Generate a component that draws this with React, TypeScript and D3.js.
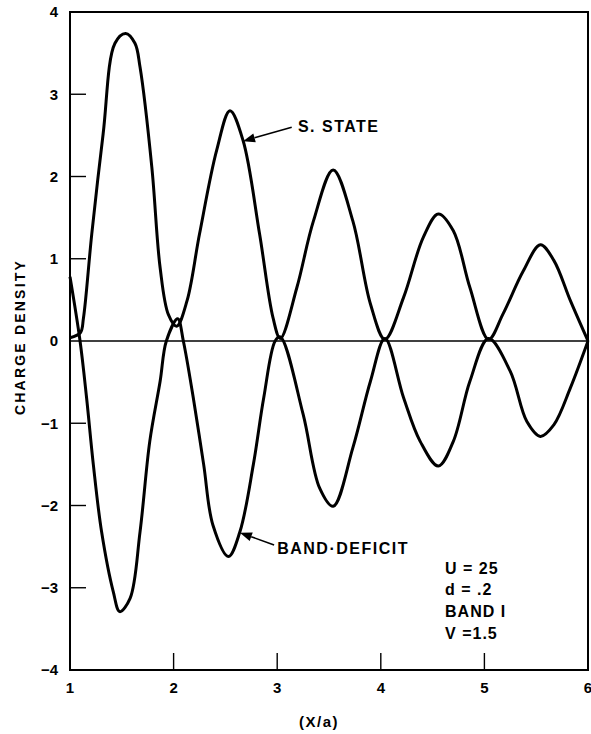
import React from "react";
import * as d3 from "d3";

// S. STATE curve
const sStateX = [1.0, 1.1, 1.13, 1.21, 1.32, 1.434, 1.537, 1.627, 1.676, 1.79, 1.87, 1.95, 2.03, 2.13, 2.25, 2.416, 2.544, 2.67, 2.83, 2.96, 3.03, 3.19, 3.35, 3.54, 3.73, 3.9, 4.04, 4.22, 4.41, 4.555, 4.7, 4.86, 5.04, 5.18, 5.375, 5.54, 5.67, 5.83, 6.0];
const sStateY = [0.04, 0.1, 0.28, 1.3, 2.52, 3.62, 3.74, 3.62, 3.33, 2.11, 0.89, 0.32, 0.18, 0.49, 1.3, 2.32, 2.8, 2.44, 1.3, 0.28, 0.03, 0.65, 1.46, 2.08, 1.46, 0.45, 0.02, 0.53, 1.26, 1.545, 1.34, 0.65, 0.02, 0.33, 0.85, 1.17, 0.98, 0.49, 0.0];

// BAND DEFICIT curve
const bandX = [1.0, 1.097, 1.16, 1.225, 1.305, 1.418, 1.48, 1.58, 1.676, 1.77, 1.87, 1.93, 2.04, 2.094, 2.19, 2.29, 2.38, 2.53, 2.64, 2.77, 2.87, 2.98, 3.03, 3.25, 3.41, 3.54, 3.73, 3.9, 4.04, 4.22, 4.38, 4.555, 4.7, 4.86, 5.04, 5.25, 5.41, 5.54, 5.67, 5.83, 6.0];
const bandY = [0.78, 0.0, -0.69, -1.5, -2.32, -3.05, -3.29, -3.13, -2.32, -1.22, -0.49, 0.0, 0.27, 0.0, -0.69, -1.5, -2.24, -2.62, -2.32, -1.5, -0.69, 0.0, 0.05, -0.89, -1.79, -2.01, -1.3, -0.49, 0.03, -0.69, -1.22, -1.52, -1.22, -0.49, 0.03, -0.37, -0.98, -1.16, -1.02, -0.57, 0.0];

const xTicks = [1, 2, 3, 4, 5, 6];
const yTicks = [4, 3, 2, 1, 0, -1, -2, -3, -4];
const paramLines = ["U = 25", "d =  .2", "BAND I", "V =1.5"];

const FONT = "'Liberation Sans', Arial, sans-serif";

export default function App() {
  const left = 70, right = 588, top = 12, bottom = 670;
  const x = d3.scaleLinear().domain([1, 6]).range([left, right]);
  const y = d3.scaleLinear().domain([-4, 4]).range([bottom, top]);

  const line = d3.line<[number, number]>()
    .x(d => x(d[0]))
    .y(d => y(d[1]))
    .curve(d3.curveCatmullRom.alpha(0.5));

  const sData = sStateX.map((v, i) => [v, sStateY[i]] as [number, number]);
  const bData = bandX.map((v, i) => [v, bandY[i]] as [number, number]);

  // arrow: from tail (data) to tip (data)
  const arrow = (tx: number, ty: number, hx: number, hy: number) => {
    const x1 = x(tx), y1 = y(ty), x2 = x(hx), y2 = y(hy);
    const ang = Math.atan2(y2 - y1, x2 - x1);
    const len = 12, wid = 4.5;
    const bx = x2 - len * Math.cos(ang), by = y2 - len * Math.sin(ang);
    const px = -Math.sin(ang) * wid, py = Math.cos(ang) * wid;
    return (
      <g>
        <line x1={x1} y1={y1} x2={bx} y2={by} stroke="#000" strokeWidth={1.6} />
        <path d={`M${x2},${y2}L${bx + px},${by + py}L${bx - px},${by - py}Z`} fill="#000" />
      </g>
    );
  };

  const textStyle = { fontFamily: FONT, fontWeight: 700 as const };

  return (
    <svg width={591} height={734} style={{ position: "absolute", left: 0, top: 0, background: "#fff" }}>
      {/* frame */}
      <rect x={left} y={top} width={right - left} height={bottom - top} fill="none" stroke="#000" strokeWidth={2} />
      {/* zero line */}
      <line x1={left} x2={right} y1={y(0)} y2={y(0)} stroke="#000" strokeWidth={1.6} />

      {/* y ticks */}
      {yTicks.filter(t => t !== 0 && Math.abs(t) !== 4).map(t => (
        <line key={"yt" + t} x1={left} x2={left + 16} y1={y(t)} y2={y(t)} stroke="#000" strokeWidth={1.4} />
      ))}
      {yTicks.map(t => (
        <text key={"yl" + t} x={left - 12} y={y(t)} dy="0.36em" textAnchor="end" fontSize={15} {...textStyle}>
          {t < 0 ? "\u2212" + Math.abs(t) : t}
        </text>
      ))}

      {/* x ticks */}
      {xTicks.filter(t => t !== 1 && t !== 6).map(t => (
        <line key={"xt" + t} x1={x(t)} x2={x(t)} y1={bottom} y2={bottom - 17} stroke="#000" strokeWidth={1.4} />
      ))}
      {xTicks.map(t => (
        <text key={"xl" + t} x={x(t)} y={bottom + 23} textAnchor="middle" fontSize={15} {...textStyle}>
          {t}
        </text>
      ))}

      {/* axis titles */}
      <text x={319} y={727} textAnchor="middle" fontSize={15} letterSpacing={1.5} {...textStyle}>(X/a)</text>
      <text transform={`translate(25,${337}) rotate(-90)`} textAnchor="middle" fontSize={14} letterSpacing={2.2} {...textStyle}>
        CHARGE  DENSITY
      </text>

      {/* curves */}
      <path d={line(sData) || ""} fill="none" stroke="#000" strokeWidth={3} strokeLinejoin="round" />
      <path d={line(bData) || ""} fill="none" stroke="#000" strokeWidth={3} strokeLinejoin="round" />

      {/* annotations */}
      {arrow(3.14, 2.6, 2.67, 2.43)}
      <text x={x(3.2)} y={y(2.54)} fontSize={16} letterSpacing={1.5} {...textStyle}>S.  STATE</text>

      {arrow(2.97, -2.48, 2.64, -2.33)}
      <text x={x(3.0)} y={y(-2.59)} fontSize={16} letterSpacing={1.5} {...textStyle}>BAND·DEFICIT</text>

      {paramLines.map((s, i) => (
        <text key={s} x={x(4.62)} y={y(-2.83) + i * 21.7} fontSize={16} letterSpacing={1} {...textStyle}>{s}</text>
      ))}
    </svg>
  );
}
